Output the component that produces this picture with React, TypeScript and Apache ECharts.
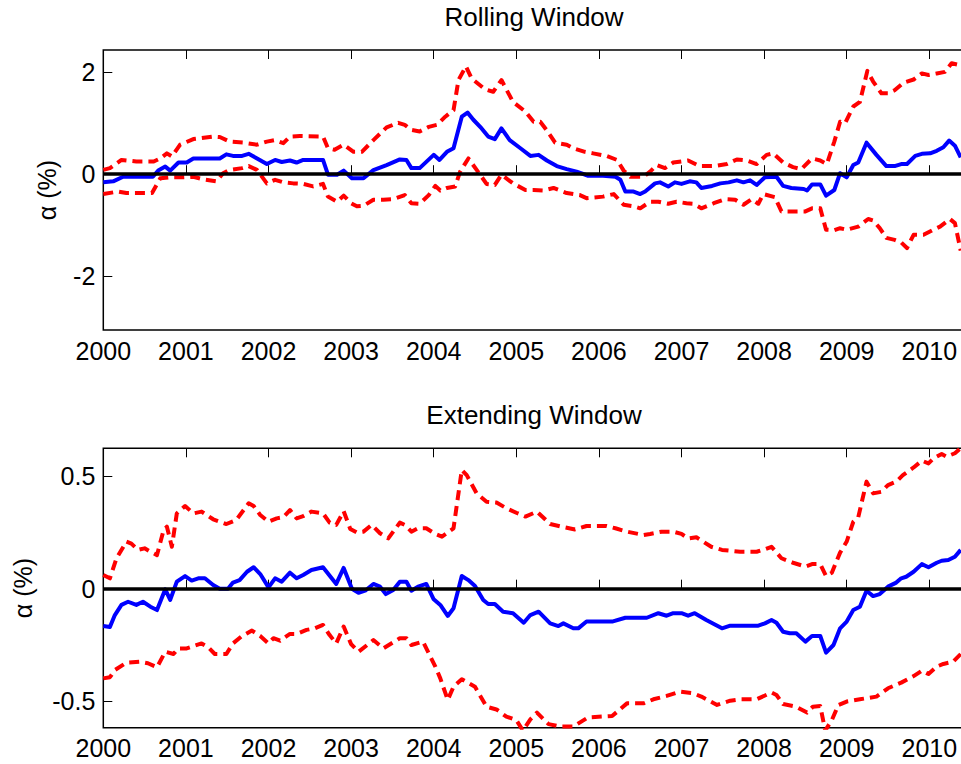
import React, { useEffect, useRef } from "react";
import * as echarts from "echarts";

// ---- tick labels ----
const yearTicks = [2000, 2001, 2002, 2003, 2004, 2005, 2006, 2007, 2008, 2009, 2010];
const rollingTicks = [-2, 0, 2];
const extendingTicks = [-0.5, 0, 0.5];

// ---- Rolling window: [year, alpha %] ----
const rollingAlpha: [number, number][] = [
  [2000.00,-0.16],[2000.12,-0.14],[2000.24,-0.05],[2000.60,-0.05],[2000.67,0.08],[2000.75,0.15],[2000.81,0.07],[2000.91,0.23],[2001.01,0.23],[2001.09,0.31],[2001.41,0.31],[2001.49,0.39],[2001.57,0.36],[2001.68,0.36],[2001.76,0.40],[2001.84,0.33],[2001.98,0.20],[2002.08,0.28],[2002.16,0.24],[2002.26,0.27],[2002.34,0.23],[2002.42,0.28],[2002.66,0.28],[2002.72,-0.01],[2002.83,-0.01],[2002.91,0.07],[2003.01,-0.08],[2003.15,-0.08],[2003.27,0.08],[2003.43,0.18],[2003.59,0.29],[2003.67,0.28],[2003.73,0.12],[2003.83,0.12],[2004.00,0.38],[2004.07,0.28],[2004.16,0.44],[2004.24,0.51],[2004.34,1.13],[2004.41,1.21],[2004.48,1.07],[2004.58,0.90],[2004.66,0.74],[2004.74,0.69],[2004.82,0.90],[2004.92,0.67],[2005.05,0.51],[2005.17,0.36],[2005.27,0.38],[2005.37,0.27],[2005.49,0.16],[2005.61,0.10],[2005.73,0.05],[2005.87,-0.03],[2006.05,-0.03],[2006.20,-0.05],[2006.26,-0.11],[2006.32,-0.34],[2006.42,-0.34],[2006.50,-0.39],[2006.56,-0.34],[2006.68,-0.18],[2006.74,-0.16],[2006.84,-0.24],[2006.92,-0.16],[2007.00,-0.19],[2007.10,-0.14],[2007.18,-0.16],[2007.24,-0.27],[2007.37,-0.23],[2007.47,-0.18],[2007.57,-0.16],[2007.67,-0.12],[2007.75,-0.16],[2007.83,-0.12],[2007.91,-0.21],[2008.01,-0.06],[2008.15,-0.05],[2008.23,-0.23],[2008.33,-0.27],[2008.48,-0.29],[2008.52,-0.32],[2008.58,-0.20],[2008.68,-0.20],[2008.75,-0.42],[2008.85,-0.31],[2008.92,0.02],[2009.00,-0.06],[2009.08,0.18],[2009.14,0.23],[2009.24,0.62],[2009.36,0.38],[2009.48,0.16],[2009.58,0.16],[2009.66,0.20],[2009.73,0.20],[2009.83,0.36],[2009.91,0.40],[2010.01,0.41],[2010.09,0.46],[2010.17,0.53],[2010.24,0.66],[2010.31,0.56],[2010.38,0.33]
];
const rollingUpper: [number, number][] = [
  [2000.00,0.085],[2000.08,0.12],[2000.22,0.28],[2000.40,0.25],[2000.61,0.25],[2000.69,0.31],[2000.77,0.41],[2000.83,0.35],[2000.93,0.58],[2001.09,0.69],[2001.33,0.74],[2001.41,0.73],[2001.53,0.64],[2001.70,0.62],[2001.86,0.58],[2001.98,0.64],[2002.08,0.67],[2002.18,0.61],[2002.26,0.74],[2002.38,0.75],[2002.66,0.74],[2002.72,0.51],[2002.80,0.48],[2002.91,0.58],[2003.03,0.44],[2003.13,0.44],[2003.27,0.67],[2003.43,0.92],[2003.57,1.01],[2003.65,0.97],[2003.73,0.87],[2003.83,0.84],[2003.94,0.93],[2004.04,0.97],[2004.14,1.13],[2004.24,1.26],[2004.30,1.85],[2004.39,2.12],[2004.46,1.88],[2004.62,1.67],[2004.72,1.62],[2004.82,1.85],[2004.96,1.42],[2005.11,1.23],[2005.21,1.03],[2005.29,1.03],[2005.37,0.86],[2005.47,0.62],[2005.61,0.58],[2005.69,0.51],[2005.83,0.44],[2005.93,0.41],[2006.09,0.36],[2006.22,0.28],[2006.30,0.07],[2006.38,-0.05],[2006.54,-0.05],[2006.62,0.05],[2006.70,0.18],[2006.80,0.12],[2006.90,0.23],[2007.08,0.27],[2007.22,0.16],[2007.39,0.16],[2007.55,0.20],[2007.67,0.29],[2007.79,0.27],[2007.91,0.20],[2008.03,0.38],[2008.11,0.41],[2008.23,0.23],[2008.35,0.14],[2008.45,0.10],[2008.58,0.31],[2008.68,0.27],[2008.76,0.20],[2008.85,0.64],[2008.92,1.03],[2008.98,1.00],[2009.08,1.33],[2009.16,1.42],[2009.25,2.03],[2009.32,1.82],[2009.42,1.59],[2009.50,1.59],[2009.58,1.65],[2009.69,1.80],[2009.81,1.86],[2009.91,1.98],[2009.99,1.95],[2010.09,1.98],[2010.19,2.01],[2010.27,2.18],[2010.38,2.14]
];
const rollingLower: [number, number][] = [
  [2000.00,-0.39],[2000.18,-0.34],[2000.28,-0.37],[2000.59,-0.37],[2000.69,-0.08],[2000.81,-0.06],[2000.97,-0.06],[2001.09,-0.05],[2001.21,-0.10],[2001.37,-0.14],[2001.45,0.02],[2001.53,0.085],[2001.68,0.12],[2001.76,0.16],[2001.86,0.085],[2001.98,-0.18],[2002.08,-0.11],[2002.18,-0.16],[2002.30,-0.18],[2002.42,-0.19],[2002.54,-0.24],[2002.66,-0.19],[2002.72,-0.44],[2002.83,-0.54],[2002.91,-0.42],[2003.00,-0.57],[2003.07,-0.63],[2003.15,-0.62],[2003.27,-0.50],[2003.39,-0.50],[2003.51,-0.49],[2003.65,-0.41],[2003.73,-0.57],[2003.83,-0.58],[2003.94,-0.41],[2004.02,-0.23],[2004.08,-0.32],[2004.16,-0.27],[2004.26,-0.24],[2004.32,0.05],[2004.42,0.31],[2004.52,0.085],[2004.64,-0.19],[2004.74,-0.21],[2004.82,-0.01],[2004.96,-0.18],[2005.11,-0.31],[2005.21,-0.31],[2005.33,-0.32],[2005.45,-0.27],[2005.61,-0.37],[2005.77,-0.41],[2005.85,-0.47],[2006.05,-0.44],[2006.18,-0.39],[2006.30,-0.60],[2006.42,-0.63],[2006.50,-0.67],[2006.62,-0.54],[2006.72,-0.54],[2006.84,-0.58],[2006.94,-0.54],[2007.06,-0.57],[2007.14,-0.58],[2007.24,-0.67],[2007.39,-0.57],[2007.53,-0.49],[2007.65,-0.50],[2007.75,-0.60],[2007.85,-0.49],[2007.93,-0.58],[2007.99,-0.39],[2008.13,-0.45],[2008.21,-0.73],[2008.35,-0.73],[2008.50,-0.73],[2008.58,-0.67],[2008.68,-0.67],[2008.75,-1.09],[2008.85,-1.10],[2008.92,-1.06],[2009.00,-1.09],[2009.14,-1.03],[2009.26,-0.88],[2009.32,-0.91],[2009.40,-1.06],[2009.48,-1.25],[2009.58,-1.29],[2009.66,-1.34],[2009.73,-1.45],[2009.81,-1.19],[2009.93,-1.19],[2010.05,-1.09],[2010.13,-1.03],[2010.25,-0.88],[2010.31,-0.96],[2010.38,-1.50]
];

// ---- Extending window: [year, alpha %] ----
const extendingAlpha: [number, number][] = [
  [2000.00,-0.166],[2000.08,-0.17],[2000.14,-0.117],[2000.22,-0.072],[2000.30,-0.058],[2000.40,-0.072],[2000.48,-0.058],[2000.57,-0.08],[2000.65,-0.095],[2000.75,-0.003],[2000.81,-0.05],[2000.89,0.031],[2000.99,0.056],[2001.07,0.036],[2001.15,0.046],[2001.23,0.046],[2001.33,0.016],[2001.41,0.0],[2001.51,0.0],[2001.57,0.027],[2001.65,0.038],[2001.74,0.075],[2001.82,0.095],[2001.90,0.065],[2002.00,0.006],[2002.08,0.046],[2002.16,0.031],[2002.26,0.071],[2002.34,0.046],[2002.42,0.061],[2002.52,0.083],[2002.66,0.095],[2002.82,0.021],[2002.91,0.092],[2003.01,0.0],[2003.09,-0.018],[2003.17,-0.009],[2003.27,0.021],[2003.35,0.009],[2003.42,-0.024],[2003.51,-0.006],[2003.59,0.031],[2003.67,0.031],[2003.73,-0.009],[2003.81,0.009],[2003.91,0.021],[2004.00,-0.047],[2004.08,-0.072],[2004.17,-0.121],[2004.24,-0.087],[2004.34,0.056],[2004.42,0.038],[2004.50,0.012],[2004.60,-0.05],[2004.66,-0.068],[2004.74,-0.068],[2004.84,-0.102],[2004.96,-0.109],[2005.09,-0.151],[2005.17,-0.117],[2005.27,-0.102],[2005.41,-0.154],[2005.51,-0.166],[2005.57,-0.154],[2005.69,-0.176],[2005.75,-0.176],[2005.85,-0.146],[2006.16,-0.146],[2006.32,-0.129],[2006.58,-0.129],[2006.72,-0.109],[2006.82,-0.12],[2006.90,-0.109],[2007.00,-0.109],[2007.08,-0.12],[2007.16,-0.109],[2007.30,-0.139],[2007.49,-0.176],[2007.59,-0.164],[2007.93,-0.164],[2008.01,-0.154],[2008.09,-0.139],[2008.15,-0.151],[2008.23,-0.191],[2008.31,-0.198],[2008.39,-0.198],[2008.50,-0.235],[2008.58,-0.21],[2008.68,-0.21],[2008.75,-0.284],[2008.84,-0.25],[2008.92,-0.176],[2009.00,-0.146],[2009.08,-0.095],[2009.16,-0.08],[2009.24,-0.009],[2009.32,-0.033],[2009.40,-0.024],[2009.50,0.009],[2009.60,0.027],[2009.66,0.046],[2009.72,0.053],[2009.81,0.075],[2009.91,0.109],[2009.99,0.095],[2010.09,0.115],[2010.15,0.124],[2010.23,0.127],[2010.31,0.142],[2010.38,0.172]
];
const extendingUpper: [number, number][] = [
  [2000.00,0.061],[2000.08,0.046],[2000.16,0.135],[2000.28,0.209],[2000.34,0.2],[2000.42,0.172],[2000.50,0.179],[2000.57,0.164],[2000.65,0.149],[2000.73,0.26],[2000.77,0.275],[2000.83,0.186],[2000.89,0.334],[2000.99,0.367],[2001.09,0.334],[2001.19,0.342],[2001.33,0.308],[2001.49,0.287],[2001.61,0.305],[2001.76,0.379],[2001.82,0.367],[2001.90,0.327],[2002.00,0.297],[2002.10,0.312],[2002.18,0.317],[2002.26,0.349],[2002.34,0.312],[2002.42,0.322],[2002.52,0.342],[2002.66,0.334],[2002.74,0.293],[2002.82,0.283],[2002.91,0.344],[2002.99,0.265],[2003.07,0.249],[2003.15,0.253],[2003.25,0.283],[2003.35,0.246],[2003.45,0.223],[2003.51,0.253],[2003.59,0.293],[2003.65,0.283],[2003.73,0.253],[2003.81,0.268],[2003.91,0.268],[2004.02,0.243],[2004.10,0.231],[2004.24,0.268],[2004.34,0.527],[2004.40,0.504],[2004.52,0.423],[2004.64,0.386],[2004.76,0.382],[2004.88,0.357],[2005.00,0.337],[2005.11,0.32],[2005.25,0.342],[2005.41,0.287],[2005.55,0.275],[2005.71,0.263],[2005.85,0.278],[2006.09,0.278],[2006.20,0.268],[2006.34,0.253],[2006.54,0.238],[2006.62,0.243],[2006.76,0.253],[2006.90,0.253],[2007.00,0.243],[2007.08,0.223],[2007.18,0.228],[2007.36,0.186],[2007.49,0.172],[2007.71,0.164],[2007.91,0.164],[2008.01,0.175],[2008.09,0.186],[2008.21,0.135],[2008.35,0.115],[2008.50,0.098],[2008.58,0.109],[2008.68,0.109],[2008.75,0.056],[2008.82,0.071],[2008.92,0.16],[2009.00,0.209],[2009.08,0.297],[2009.14,0.317],[2009.24,0.475],[2009.32,0.423],[2009.42,0.43],[2009.50,0.46],[2009.60,0.475],[2009.68,0.504],[2009.81,0.538],[2009.91,0.568],[2009.99,0.556],[2010.05,0.578],[2010.15,0.598],[2010.21,0.586],[2010.31,0.601],[2010.38,0.623]
];
const extendingLower: [number, number][] = [
  [2000.00,-0.398],[2000.08,-0.393],[2000.14,-0.361],[2000.28,-0.328],[2000.44,-0.324],[2000.54,-0.331],[2000.65,-0.349],[2000.75,-0.28],[2000.85,-0.29],[2000.91,-0.265],[2001.01,-0.265],[2001.19,-0.243],[2001.27,-0.26],[2001.35,-0.29],[2001.49,-0.29],[2001.57,-0.243],[2001.67,-0.213],[2001.80,-0.186],[2001.90,-0.21],[2002.00,-0.243],[2002.06,-0.22],[2002.14,-0.231],[2002.26,-0.201],[2002.34,-0.201],[2002.46,-0.183],[2002.56,-0.176],[2002.66,-0.161],[2002.74,-0.206],[2002.82,-0.243],[2002.91,-0.168],[2003.00,-0.246],[2003.09,-0.28],[2003.27,-0.228],[2003.39,-0.265],[2003.59,-0.22],[2003.67,-0.22],[2003.73,-0.25],[2003.87,-0.235],[2004.02,-0.346],[2004.08,-0.398],[2004.17,-0.494],[2004.24,-0.435],[2004.34,-0.402],[2004.50,-0.435],[2004.64,-0.524],[2004.76,-0.536],[2004.88,-0.568],[2005.00,-0.583],[2005.08,-0.63],[2005.17,-0.58],[2005.25,-0.55],[2005.39,-0.601],[2005.53,-0.612],[2005.69,-0.612],[2005.87,-0.571],[2006.16,-0.565],[2006.34,-0.509],[2006.54,-0.509],[2006.66,-0.491],[2006.82,-0.476],[2006.98,-0.457],[2007.14,-0.464],[2007.24,-0.479],[2007.43,-0.516],[2007.59,-0.497],[2007.71,-0.491],[2007.91,-0.491],[2008.09,-0.461],[2008.15,-0.472],[2008.23,-0.512],[2008.39,-0.524],[2008.52,-0.55],[2008.59,-0.524],[2008.68,-0.521],[2008.74,-0.63],[2008.82,-0.583],[2008.90,-0.516],[2009.00,-0.501],[2009.16,-0.491],[2009.36,-0.479],[2009.50,-0.442],[2009.66,-0.417],[2009.81,-0.388],[2009.91,-0.364],[2009.99,-0.379],[2010.09,-0.346],[2010.17,-0.334],[2010.29,-0.324],[2010.38,-0.29]
];

const FONT = '"Liberation Sans", Arial, Helvetica, sans-serif';
const FS = 25;
const TITLE_FS = 26;

export default function App() {
  const ref = useRef<HTMLDivElement>(null);
  useEffect(() => {
    if (!ref.current) return;
    const chart = echarts.init(ref.current, undefined, { renderer: "svg" });

    const gridBase = {
      left: 103.3,
      width: 867.3,
      show: true,
      borderColor: "#000",
      borderWidth: 1.5,
      backgroundColor: "transparent",
      containLabel: false,
      outerBoundsMode: "none",
    };
    const xAxisFor = (gi: number, pos: "bottom" | "top") => ({
      type: "value",
      gridIndex: gi,
      position: pos,
      min: 2000,
      max: 2010.5,
      axisLine: { show: false },
      axisTick: {
        show: true,
        inside: true,
        length: 9,
        customValues: yearTicks,
        lineStyle: { color: "#000", width: 1 },
      },
      axisLabel: {
        show: pos === "bottom",
        customValues: yearTicks,
        formatter: (v: number) => String(Math.round(v)),
        fontFamily: FONT,
        fontSize: FS,
        color: "#000",
        margin: 8,
      },
      splitLine: { show: false },
    });
    const yAxisFor = (gi: number, min: number, max: number, ticks: number[], gap: number) => ({
      type: "value",
      gridIndex: gi,
      min,
      max,
      name: "α (%)",
      nameLocation: "middle",
      nameGap: gap,
      nameTextStyle: { fontFamily: FONT, fontSize: FS, color: "#000" },
      axisLine: { show: false },
      axisTick: {
        show: true,
        inside: true,
        length: 9,
        customValues: ticks,
        lineStyle: { color: "#000", width: 1 },
      },
      axisLabel: {
        customValues: ticks,
        formatter: (v: number) => String(v),
        fontFamily: FONT,
        fontSize: FS,
        color: "#000",
        margin: 8,
      },
      splitLine: { show: false },
    });

    const solid = (data: [number, number][], xi: number, yi: number) => ({
      type: "line",
      xAxisIndex: xi,
      yAxisIndex: yi,
      data,
      showSymbol: false,
      symbol: "none",
      clip: true,
      z: 2,
      lineStyle: { color: "#0000FF", width: 4, type: "solid", join: "round" },
    });
    const dashed = (data: [number, number][], xi: number, yi: number, zero: boolean) => ({
      type: "line",
      xAxisIndex: xi,
      yAxisIndex: yi,
      data,
      showSymbol: false,
      symbol: "none",
      clip: true,
      z: 3,
      lineStyle: { color: "#FF0000", width: 4, type: [10, 6], join: "round" },
      markLine: zero
        ? {
            silent: true,
            symbol: ["none", "none"],
            label: { show: false },
            lineStyle: { color: "#000", width: 3.5, type: "solid" },
            data: [{ yAxis: 0 }],
            animation: false,
          }
        : undefined,
    });

    chart.setOption({
      animation: false,
      backgroundColor: "#fff",
      grid: [
        { ...gridBase, top: 50, height: 280 },
        { ...gridBase, top: 448.3, height: 279.4 },
      ],
      xAxis: [
        xAxisFor(0, "bottom"),
        xAxisFor(0, "top"),
        xAxisFor(1, "bottom"),
        xAxisFor(1, "top"),
      ],
      yAxis: [
        yAxisFor(0, -3.06, 2.44, rollingTicks, 44),
        yAxisFor(1, -0.617, 0.623, extendingTicks, 68),
      ],
      graphic: [
        {
          type: "text",
          x: 534,
          y: 4,
          style: {
            text: "Rolling Window",
            font: `${TITLE_FS}px ${FONT}`,
            fill: "#000",
            textAlign: "center",
            textVerticalAlign: "top",
          },
        },
        {
          type: "text",
          x: 534,
          y: 402,
          style: {
            text: "Extending Window",
            font: `${TITLE_FS}px ${FONT}`,
            fill: "#000",
            textAlign: "center",
            textVerticalAlign: "top",
          },
        },
      ],
      series: [
        solid(rollingAlpha, 0, 0),
        dashed(rollingUpper, 0, 0, false),
        dashed(rollingLower, 0, 0, true),
        solid(extendingAlpha, 2, 1),
        dashed(extendingUpper, 2, 1, false),
        dashed(extendingLower, 2, 1, true),
      ],
    });
    return () => chart.dispose();
  }, []);

  return (
    <div
      ref={ref}
      style={{ position: "absolute", left: 0, top: 0, width: 961, height: 764, background: "#fff" }}
    />
  );
}
